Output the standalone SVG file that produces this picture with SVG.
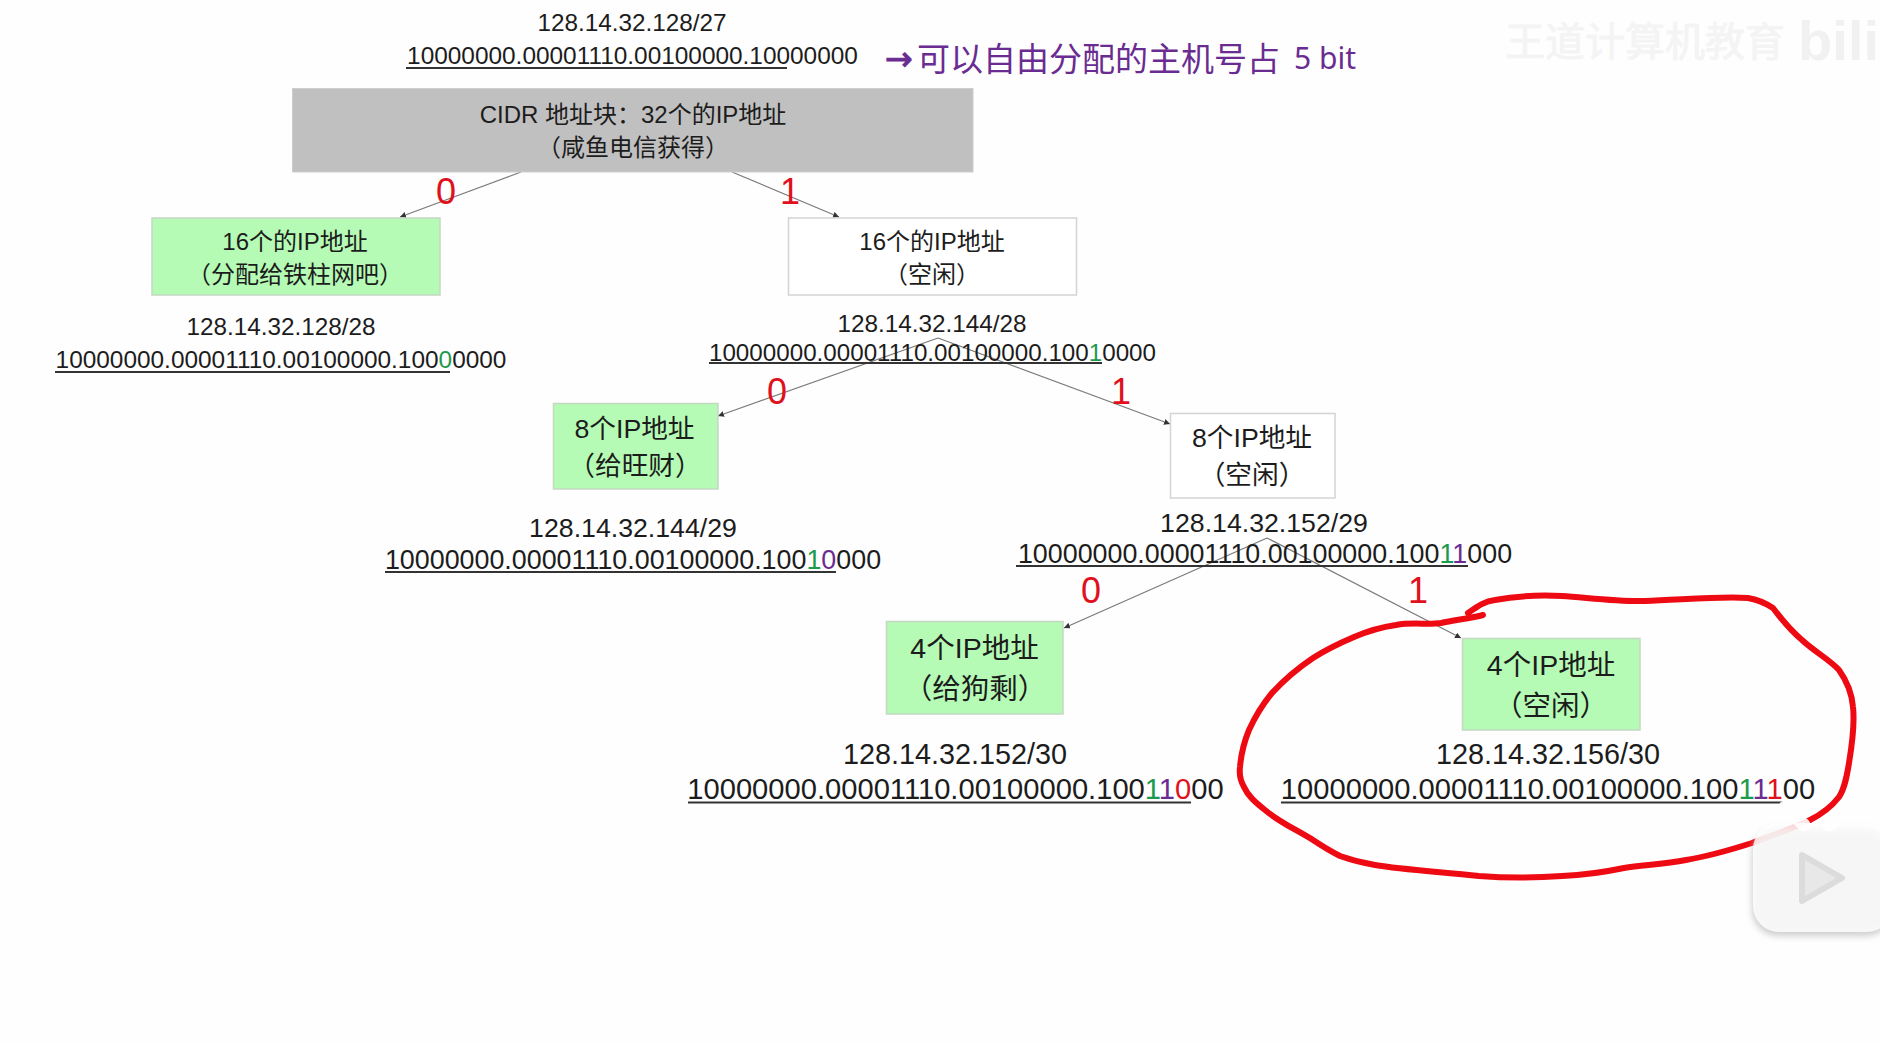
<svg xmlns="http://www.w3.org/2000/svg" width="1880" height="1042" viewBox="0 0 1880 1042">
<style>
text{font-family:"Liberation Sans","Noto Sans CJK SC",sans-serif;fill:#1c1c1c;text-anchor:middle}
.gr{fill:#b5fbb5;stroke:#c4d8c4;stroke-width:1.5}
.wh{fill:#fff;stroke:#d4d4d4;stroke-width:1.5}
.c{fill:none;stroke:#7a7a7a;stroke-width:1.2;marker-end:url(#a)}
.u{stroke:#333;stroke-width:2}
.b{fill:#e0101c;font-size:36px}
.g{fill:#1c9a4c}.p{fill:#6a2c91}.r{fill:#e0101c}
.s24{font-size:24px}.ip24{font-size:24.3px}.b24{font-size:24.4px}.s26{font-size:26.7px}.s27{font-size:26.7px}.b27{font-size:26.85px}.s28{font-size:28.5px}.s29{font-size:28.8px}.b29{font-size:29.15px}
</style>
<defs>
<marker id="a" markerWidth="7" markerHeight="6" refX="6" refY="3" orient="auto" markerUnits="userSpaceOnUse"><path d="M0 0L6 3L0 6z" fill="#333"/></marker>
<filter id="sh" x="-20%" y="-20%" width="140%" height="140%"><feGaussianBlur stdDeviation="3"/></filter>
</defs>
<rect width="1880" height="1042" fill="#fefefe"/>
<g id="watermark">
<text x="1645" y="56" style="fill:#f4f4f4;stroke:#f4f4f4;stroke-width:.8;font-size:40px">王道计算机教育</text>
<text x="1879" y="60" style="fill:#f1f1f1;font-size:56px;font-weight:bold;text-anchor:end">bili</text>
</g>
<g id="connectors">
<path class="c" d="M521 172L400 217"/>
<path class="c" d="M732 172L839 217"/>
<path class="c" d="M938 338L718 416"/>
<path class="c" d="M938 338L1170 424" />
<path class="c" d="M1267 538L1064 628"/>
<path class="c" d="M1267 538L1461 638"/>
</g>
<g id="root"><rect x="292.500" y="88.500" width="680.500" height="83.500" fill="#c0c0c0" stroke="#cdcdcd"/>
<text class="s24" x="633" y="123">CIDR 地址块：32个的IP地址</text><text class="s24" x="633" y="156">（咸鱼电信获得）</text></g>
<g id="addr-27"><text class="ip24" x="632" y="31">128.14.32.128/27</text><text class="b24" x="632.500" y="64">10000000.00001110.00100000.10000000</text><line class="u" x1="406" y1="68" x2="787" y2="68"/></g>
<g id="note"><text x="885" y="70" style="text-anchor:start;fill:#6a2c91;stroke:#6a2c91;stroke-width:1;font-size:33px;font-family:'DejaVu Sans',sans-serif">→</text>
<text x="917" y="71" style="text-anchor:start;fill:#6a2c91;font-size:33px;font-family:'Noto Sans CJK SC',sans-serif">可以自由分配的主机号占</text>
<text x="1294" y="69" style="text-anchor:start;fill:#6a2c91;font-size:30px;font-family:'Noto Sans',sans-serif">5 bit</text></g>
<g id="n16a"><rect class="gr" x="152" y="218" width="288" height="77"/><text class="s24" x="295" y="250">16个的IP地址</text><text class="s24" x="295" y="283">（分配给铁柱网吧）</text></g>
<g id="n16b"><rect class="wh" x="788.500" y="218" width="288" height="77"/><text class="s24" x="932" y="250">16个的IP地址</text><text class="s24" x="932" y="283">（空闲）</text></g>
<g id="addr-28a"><text class="ip24" x="281" y="335">128.14.32.128/28</text><text class="b24" x="281" y="368">10000000.00001110.00100000.100<tspan class="g">0</tspan>0000</text><line class="u" x1="55" y1="372" x2="450" y2="372"/></g>
<g id="addr-28b"><text class="ip24" x="932" y="332">128.14.32.144/28</text><text class="s24" x="932.500" y="361" style="font-size:24.2px">10000000.00001110.00100000.100<tspan class="g">1</tspan>0000</text><line class="u" x1="709" y1="363" x2="1102" y2="363"/></g>
<g id="n8a"><rect class="gr" x="553.500" y="403.500" width="164.500" height="85.500"/><text class="s26" x="634.500" y="438">8个IP地址</text><text class="s26" x="635" y="475">（给旺财）</text></g>
<g id="n8b"><rect class="wh" x="1170.500" y="413.500" width="164.500" height="84.500"/><text class="s26" x="1252" y="447">8个IP地址</text><text class="s26" x="1252" y="484">（空闲）</text></g>
<g id="addr-29a"><text class="s27" x="633" y="537">128.14.32.144/29</text><text class="b27" x="633" y="569">10000000.00001110.00100000.100<tspan class="g">1</tspan><tspan class="p">0</tspan>000</text><line class="u" x1="385" y1="572" x2="836" y2="572"/></g>
<g id="addr-29b"><text class="s27" x="1264" y="532">128.14.32.152/29</text><text class="b27" x="1265" y="563">10000000.00001110.00100000.100<tspan class="g">1</tspan><tspan class="p">1</tspan>000</text><line class="u" x1="1016" y1="566" x2="1468" y2="566"/></g>
<g id="n4a"><rect class="gr" x="886.500" y="621.500" width="176.500" height="92.500"/><text class="s28" x="974.500" y="658">4个IP地址</text><text class="s28" x="975" y="699">（给狗剩）</text></g>
<g id="n4b"><rect class="gr" x="1462.500" y="638.500" width="177.500" height="91.500"/><text class="s28" x="1551" y="675">4个IP地址</text><text class="s28" x="1551" y="716">（空闲）</text></g>
<g id="addr-30a"><text class="s29" x="955" y="764">128.14.32.152/30</text><text class="b29" x="955.500" y="799">10000000.00001110.00100000.100<tspan class="g">1</tspan><tspan class="p">1</tspan><tspan class="r">0</tspan>00</text><line class="u" x1="688" y1="802.500" x2="1191" y2="802.500"/></g>
<g id="addr-30b"><text class="s29" x="1548" y="764">128.14.32.156/30</text><text class="b29" x="1548" y="799">10000000.00001110.00100000.100<tspan class="g">1</tspan><tspan class="p">1</tspan><tspan class="r">1</tspan>00</text><line class="u" x1="1281" y1="802.500" x2="1783" y2="802.500"/></g>
<g id="bits"><text class="b" x="446" y="204">0</text><text class="b" x="790" y="204">1</text><text class="b" x="777" y="404">0</text><text class="b" x="1121" y="404">1</text><text class="b" x="1091" y="603">0</text><text class="b" x="1418" y="603">1</text></g>
<path id="ink" fill="none" stroke="#ee0a12" stroke-width="6" stroke-linecap="round" stroke-linejoin="round" d="M1468 613C1478 606 1485 601 1495 600C1515 596 1540 595 1562 596C1590 598 1620 602 1645 601C1680 600 1720 596 1748 598C1760 600 1767 604 1773 608C1782 620 1790 630 1802 640C1815 652 1830 660 1839 670C1849 684 1852 695 1853 707C1855 725 1852 745 1849 763C1847 775 1845 788 1839 797C1832 806 1822 814 1810 820C1790 830 1770 836 1752 843C1730 850 1710 856 1686 860C1665 864 1645 865 1624 868C1605 872 1585 875 1562 876C1535 878 1505 878 1479 876C1445 872 1405 870 1375 865C1363 863 1354 861 1340 856C1330 851 1322 846 1313 840C1297 830 1279 822 1265 810C1255 802 1248 796 1244 787C1240 780 1239 775 1240 767C1241 755 1244 742 1249 730C1255 717 1262 705 1272 693C1284 680 1298 668 1313 658C1327 649 1340 643 1354 637C1368 631 1382 627 1396 625C1412 622 1428 625 1441 623C1455 620 1472 618 1483 615"/>
<g id="logo">
<rect x="1752" y="828" width="140" height="108" rx="26" fill="#bbb" opacity=".7" filter="url(#sh)"/>
<path d="M1785 807L1804 825M1848 807L1829 825" stroke="#fff" stroke-width="13" stroke-linecap="round" opacity=".9"/>
<rect x="1753" y="823" width="140" height="109" rx="26" fill="#fff" opacity=".82"/>
<path d="M1802 855L1842 878L1802 901z" fill="#e8e8e8" stroke="#dcdcdc" stroke-width="6" stroke-linejoin="round"/>
</g>
</svg>
